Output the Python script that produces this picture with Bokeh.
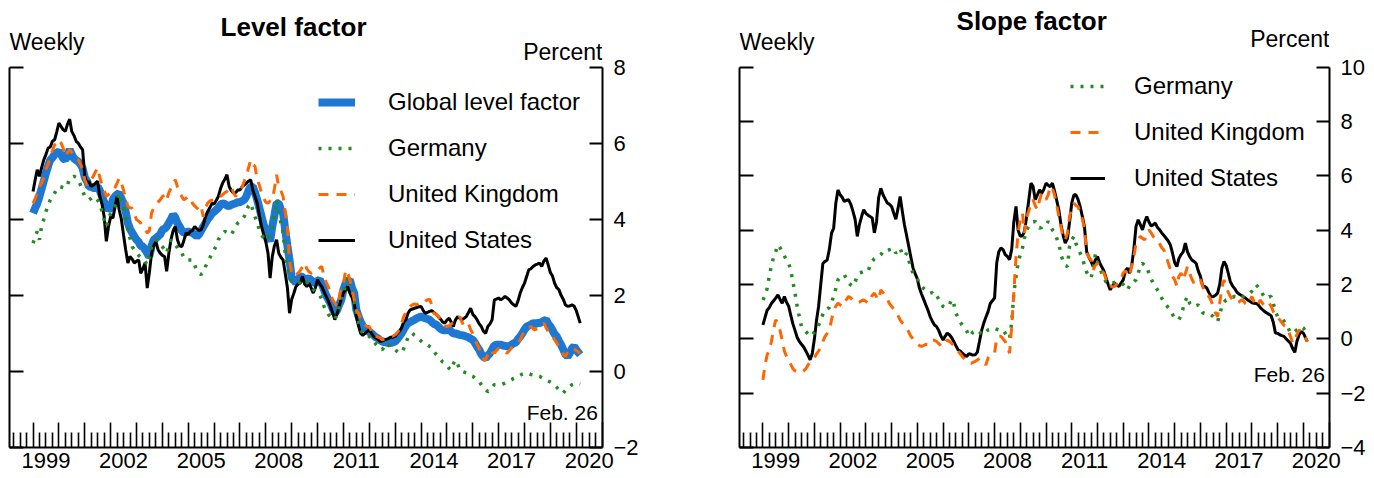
import pandas as pd
from bokeh.plotting import figure
from bokeh.models import (Range1d, LinearAxis, FixedTicker, CustomJSTickFormatter,
                          Label, Legend, LegendItem)
from bokeh.layouts import row
from bokeh.embed import file_html
from bokeh.resources import INLINE

FONT = "Liberation Sans"

# ---------------- data (monthly readings, Jan 1999 .. Jan 2020, then Feb 26 2020) -------------
month_starts = list(pd.date_range("1999-01-01", "2020-01-01", freq="MS"))
dates = month_starts + [pd.Timestamp("2020-02-26")]

global_level = [
    4.16, 4.3, 4.42, 4.6, 4.8, 5.0, 5.21, 5.4, 5.56, 5.62, 5.7, 5.75,
    5.78, 5.7, 5.6, 5.56, 5.7, 5.83, 5.7, 5.6, 5.55, 5.52, 5.45, 5.34,
    5.1, 5.0, 4.86, 4.85, 4.82, 4.82, 4.86, 4.75, 4.6, 4.45, 4.34, 4.25,
    4.3, 4.51, 4.6, 4.65, 4.69, 4.55, 4.42, 4.2, 3.9, 3.75, 3.64, 3.55,
    3.46, 3.4, 3.3, 3.28, 3.2, 3.11, 3.02, 3.3, 3.46, 3.5, 3.55, 3.6,
    3.72, 3.75, 3.8, 3.9, 4.0, 4.12, 4.05, 3.9, 3.81, 3.7, 3.64, 3.66,
    3.68, 3.66, 3.64, 3.6, 3.55, 3.6, 3.7, 3.8, 3.9, 4.0, 4.07, 4.15,
    4.2, 4.25, 4.3, 4.38, 4.42, 4.4, 4.36, 4.34, 4.38, 4.4, 4.42, 4.45,
    4.45, 4.48, 4.51, 4.6, 4.75, 4.86, 4.86, 4.7, 4.51, 4.3, 4.07, 3.85,
    3.7, 3.55, 3.42, 3.81, 4.1, 4.42, 4.42, 4.25, 4.16, 3.72, 3.3, 2.93,
    2.45, 2.4, 2.32, 2.4, 2.5, 2.48, 2.41, 2.43, 2.45, 2.4, 2.35, 2.32,
    2.38, 2.41, 2.3, 2.15, 2.0, 1.9, 1.79, 1.65, 1.53, 1.6, 1.75, 1.88,
    2.15, 2.32, 2.38, 2.41, 2.2, 2.06, 1.62, 1.45, 1.3, 1.2, 1.12, 1.09,
    1.04, 1.0, 0.95, 0.9, 0.87, 0.82, 0.79, 0.77, 0.76, 0.74, 0.75, 0.77,
    0.79, 0.85, 0.92, 1.0, 1.1, 1.2, 1.27, 1.3, 1.33, 1.36, 1.4, 1.42,
    1.44, 1.42, 1.4, 1.38, 1.36, 1.3, 1.25, 1.23, 1.18, 1.12, 1.09, 1.08,
    1.09, 1.1, 1.05, 1.0, 1.0, 0.98, 0.96, 0.95, 0.94, 0.92, 0.9, 0.86,
    0.83, 0.75, 0.65, 0.57, 0.45, 0.38, 0.35, 0.42, 0.48, 0.58, 0.68, 0.7,
    0.7, 0.7, 0.68, 0.67, 0.66, 0.66, 0.7, 0.74, 0.76, 0.85, 0.92, 1.0,
    1.1, 1.18, 1.2, 1.23, 1.27, 1.25, 1.27, 1.27, 1.3, 1.33, 1.36, 1.25,
    1.18, 1.08, 0.98, 0.92, 0.8, 0.7, 0.58, 0.45, 0.39, 0.48, 0.6, 0.66,
    0.57, 0.44,
]

germany_level = [
    3.37, 3.55, 3.68, 3.46, 3.81, 4.0, 4.2, 4.35, 4.51, 4.6, 4.69, 4.78,
    4.86, 4.85, 4.83, 4.82, 4.9, 5.08, 5.1, 5.13, 5.1, 5.04, 4.9, 4.75,
    4.6, 4.55, 4.51, 4.55, 4.6, 4.55, 4.5, 4.42, 4.2, 3.99, 3.81, 4.0,
    4.16, 4.25, 4.34, 4.5, 4.69, 4.5, 4.34, 4.05, 3.72, 3.5, 3.28, 3.2,
    3.11, 3.05, 3.0, 2.93, 2.9, 2.8, 3.0, 3.28, 3.38, 3.46, 3.4, 3.35,
    3.28, 3.2, 3.11, 3.3, 3.46, 3.4, 3.33, 3.25, 3.15, 3.11, 3.0, 2.93,
    2.93, 2.93, 2.93, 2.8, 2.65, 2.58, 2.55, 2.6, 2.76, 2.85, 2.98, 3.1,
    3.2, 3.3, 3.46, 3.55, 3.62, 3.68, 3.66, 3.62, 3.59, 3.7, 3.82, 3.9,
    3.95, 4.0, 4.07, 4.2, 4.35, 4.42, 4.25, 4.07, 3.9, 3.72, 3.6, 3.5,
    3.5, 3.46, 3.6, 3.81, 4.1, 4.51, 4.2, 3.9, 3.64, 3.1, 2.76, 2.5,
    2.36, 2.34, 2.32, 2.3, 2.35, 2.41, 2.4, 2.35, 2.28, 2.25, 2.15, 2.1,
    2.06, 2.0, 1.9, 1.71, 1.6, 1.5, 1.44, 1.4, 1.36, 1.5, 1.71, 1.9,
    2.06, 2.3, 2.5, 2.3, 2.15, 1.85, 1.53, 1.3, 1.09, 1.0, 0.92, 0.92,
    0.92, 0.88, 0.8, 0.72, 0.66, 0.6, 0.57, 0.65, 0.74, 0.7, 0.62, 0.57,
    0.57, 0.52, 0.48, 0.5, 0.6, 0.74, 0.9, 0.98, 1.0, 0.95, 0.92, 0.85,
    0.8, 0.74, 0.72, 0.7, 0.66, 0.62, 0.52, 0.45, 0.39, 0.32, 0.25, 0.22,
    0.15, 0.08, 0.04, 0.2, 0.3, 0.2, 0.04, 0.0, -0.02, -0.04, -0.08, -0.11,
    -0.13, -0.18, -0.22, -0.26, -0.35, -0.44, -0.48, -0.53, -0.5, -0.42, -0.35, -0.35,
    -0.35, -0.35, -0.33, -0.31, -0.28, -0.25, -0.22, -0.18, -0.15, -0.13, -0.1, -0.07,
    -0.05, -0.04, -0.06, -0.08, -0.09, -0.1, -0.12, -0.13, -0.16, -0.19, -0.22, -0.25,
    -0.28, -0.31, -0.36, -0.42, -0.48, -0.55, -0.57, -0.5, -0.44, -0.4, -0.35, -0.33,
    -0.31, -0.33,
]

uk_level = [
    4.42, 4.55, 4.69, 4.85, 4.95, 5.1, 5.3, 5.45, 5.65, 5.8, 5.96, 6.0,
    6.09, 6.0, 5.87, 5.65, 5.75, 5.83, 5.75, 5.65, 5.6, 5.56, 5.45, 5.3,
    5.04, 4.9, 4.95, 5.05, 5.13, 5.25, 5.35, 5.1, 4.9, 4.77, 4.6, 4.65,
    4.69, 4.72, 4.82, 4.95, 5.08, 4.95, 4.77, 4.55, 4.34, 4.3, 4.29, 4.15,
    3.99, 3.95, 3.9, 3.81, 3.75, 3.64, 3.7, 4.16, 4.3, 4.38, 4.45, 4.51,
    4.6, 4.64, 4.51, 4.7, 4.82, 4.95, 5.04, 4.85, 4.69, 4.6, 4.51, 4.55,
    4.6, 4.55, 4.42, 4.35, 4.3, 4.25, 4.34, 4.07, 4.3, 4.42, 4.48, 4.5,
    4.51, 4.55, 4.55, 4.6, 4.65, 4.7, 4.73, 4.8, 4.86, 4.7, 4.6, 4.7,
    4.77, 4.85, 5.0, 5.13, 5.35, 5.56, 5.45, 5.39, 5.04, 4.9, 4.69, 4.55,
    4.45, 4.42, 4.48, 4.51, 4.8, 5.17, 4.86, 4.75, 4.6, 4.2, 3.81, 2.9,
    2.6, 2.5, 2.55, 2.58, 2.65, 2.75, 2.85, 2.7, 2.62, 2.58, 2.6, 2.65,
    2.67, 2.72, 2.76, 2.5, 2.35, 2.23, 2.05, 1.88, 1.8, 1.71, 1.9, 2.23,
    2.3, 2.67, 2.6, 2.41, 2.2, 1.88, 1.6, 1.53, 1.4, 1.27, 1.22, 1.18,
    1.18, 1.05, 0.92, 0.92, 0.9, 0.88, 0.83, 0.85, 0.86, 0.87, 0.9, 0.93,
    0.96, 1.02, 1.09, 1.25, 1.44, 1.55, 1.65, 1.71, 1.75, 1.78, 1.75, 1.79,
    1.82, 1.8, 1.85, 1.88, 1.9, 1.75, 1.53, 1.5, 1.45, 1.35, 1.28, 1.2,
    1.18, 1.2, 1.25, 1.27, 1.32, 1.38, 1.44, 1.3, 1.18, 1.22, 1.25, 1.1,
    1.0, 0.85, 0.72, 0.6, 0.45, 0.32, 0.3, 0.45, 0.57, 0.5, 0.48, 0.55,
    0.6, 0.61, 0.55, 0.5, 0.48, 0.55, 0.62, 0.66, 0.7, 0.75, 0.83, 0.95,
    1.05, 1.09, 1.15, 1.18, 1.12, 1.09, 1.15, 1.2, 1.22, 1.27, 1.15, 1.05,
    1.0, 0.92, 0.83, 0.75, 0.65, 0.57, 0.45, 0.39, 0.5, 0.57, 0.61, 0.6,
    0.55, 0.48,
]

us_level = [
    4.73, 5.05, 5.3, 5.13, 5.35, 5.56, 5.7, 5.87, 5.9, 6.05, 6.09, 6.3,
    6.53, 6.44, 6.35, 6.31, 6.5, 6.63, 6.31, 6.2, 6.05, 6.0, 5.9, 5.83,
    5.13, 4.95, 5.0, 4.86, 4.9, 4.95, 5.0, 4.6, 4.4, 4.07, 3.42, 3.8,
    4.07, 4.03, 4.3, 4.6, 4.25, 4.0, 3.6, 3.2, 2.85, 3.02, 2.95, 2.85,
    2.9, 2.93, 2.58, 2.7, 2.85, 2.19, 2.6, 3.11, 3.3, 3.42, 3.2, 3.11,
    3.05, 3.02, 2.63, 3.1, 3.46, 3.7, 3.81, 3.46, 3.3, 3.28, 3.45, 3.64,
    3.6, 3.68, 3.7, 3.81, 3.75, 3.7, 3.72, 3.85, 4.07, 4.2, 4.3, 4.42,
    4.4, 4.5, 4.6, 4.8, 4.95, 5.05, 5.17, 4.86, 4.75, 4.69, 4.7, 4.77,
    4.77, 4.86, 4.9, 4.95, 5.0, 5.04, 4.77, 4.6, 4.42, 4.1, 3.81, 3.6,
    3.4, 3.1, 2.45, 3.02, 3.3, 3.46, 3.11, 3.0, 2.93, 2.58, 2.2, 1.53,
    1.9, 2.06, 2.23, 2.3, 2.32, 2.5, 2.3, 2.23, 2.32, 2.2, 2.06, 2.2,
    2.41, 2.3, 2.23, 2.1, 1.97, 1.85, 1.71, 1.55, 1.36, 1.5, 1.71, 1.9,
    2.06, 2.15, 2.23, 2.06, 1.95, 1.79, 1.44, 1.2, 1.0, 0.95, 1.0, 1.05,
    1.09, 1.0, 0.92, 0.88, 0.85, 0.79, 0.8, 0.83, 0.85, 0.87, 0.9, 0.9,
    0.92, 1.0, 1.05, 1.15, 1.3, 1.36, 1.53, 1.62, 1.64, 1.66, 1.68, 1.7,
    1.71, 1.6, 1.53, 1.55, 1.58, 1.6, 1.55, 1.5, 1.44, 1.38, 1.3, 1.27,
    1.35, 1.4, 1.3, 1.18, 1.35, 1.44, 1.4, 1.36, 1.4, 1.44, 1.55, 1.66,
    1.5, 1.44, 1.36, 1.25, 1.18, 1.05, 1.0, 1.18, 1.25, 1.36, 1.88, 1.9,
    1.93, 1.88, 1.92, 1.97, 1.93, 1.88, 1.8, 1.75, 1.71, 1.85, 2.06, 2.2,
    2.32, 2.5, 2.67, 2.7, 2.76, 2.8, 2.82, 2.85, 2.76, 2.9, 2.98, 2.8,
    2.6, 2.5, 2.32, 2.2, 2.15, 2.0, 1.9, 1.75, 1.71, 1.72, 1.75, 1.72,
    1.6, 1.27,
]

germany_slope = [
    1.43, 1.6, 1.85, 2.3, 2.7, 3.0, 3.21, 3.46, 3.35, 3.21, 3.05, 2.9,
    2.78, 2.5, 2.1, 1.68, 1.2, 0.8, 0.45, 0.35, 0.27, 0.18, 0.09, 0.15,
    0.25, 0.33, 0.5, 0.7, 0.9, 1.07, 1.1, 1.15, 1.31, 1.6, 1.85, 2.17,
    2.25, 2.3, 2.36, 2.2, 2.05, 1.98, 1.93, 2.1, 2.29, 2.42, 2.45, 2.48,
    2.48, 2.48, 2.7, 2.85, 2.95, 3.0, 3.03, 3.1, 3.2, 3.28, 3.25, 3.28,
    3.3, 3.34, 3.15, 3.25, 3.34, 3.1, 3.03, 3.15, 2.9, 2.6, 2.42, 2.3,
    2.2, 2.05, 1.95, 1.85, 1.78, 1.74, 1.68, 1.7, 1.56, 1.6, 1.45, 1.3,
    1.19, 1.15, 1.2, 1.25, 1.45, 1.3, 0.94, 0.8, 0.62, 0.5, 0.4, 0.3,
    0.09, 0.15, 0.25, 0.3, 0.33, 0.25, 0.2, 0.15, 0.25, 0.33, 0.35, 0.39,
    0.39, 0.35, 0.33, 0.35, 0.33, 0.2, 0.09, 0.0, 0.6, 1.68, 2.29, 2.8,
    3.1, 3.35, 3.7, 4.0, 4.15, 4.26, 4.3, 4.32, 4.2, 4.07, 4.1, 4.2,
    4.2, 4.32, 4.2, 4.01, 3.9, 3.7, 3.52, 3.1, 2.85, 2.7, 2.66, 3.4,
    3.64, 3.77, 3.5, 3.3, 3.15, 2.95, 2.7, 2.45, 2.3, 2.23, 2.6, 3.1,
    2.8, 2.6, 2.42, 2.25, 2.1, 2.05, 2.0, 2.05, 2.08, 2.11, 2.08, 2.05,
    2.0, 1.85, 1.8, 1.95, 2.08, 2.1, 2.17, 2.4, 2.7, 2.78, 2.7, 2.66,
    2.4, 2.2, 2.05, 1.93, 1.8, 1.68, 1.5, 1.35, 1.25, 1.15, 1.05, 0.9,
    0.76, 0.72, 0.7, 0.85, 1.13, 1.4, 1.56, 1.31, 1.22, 1.19, 1.22, 1.25,
    1.1, 0.96, 0.94, 0.95, 0.94, 0.88, 0.82, 0.7, 0.64, 0.9, 1.19, 1.35,
    1.43, 1.45, 1.5, 1.52, 1.56, 1.55, 1.5, 1.5, 1.56, 1.62, 1.65, 1.68,
    1.75, 1.85, 1.99, 1.9, 1.8, 1.65, 1.52, 1.5, 1.55, 1.56, 1.3, 1.0,
    0.82, 0.8, 0.76, 0.65, 0.52, 0.4, 0.21, 0.25, 0.27, 0.33, 0.38, 0.45,
    0.4, 0.18,
]

uk_slope = [
    -1.51, -0.95, -0.6, -0.4, -0.1, 0.35, 0.7, 0.58, 0.3, -0.05, -0.45, -0.65,
    -0.77, -0.95, -1.1, -1.18, -1.22, -1.26, -1.22, -1.18, -1.1, -0.96, -0.88, -0.8,
    -0.7, -0.55, -0.45, -0.3, -0.1, 0.09, 0.2, 0.33, 0.7, 1.07, 1.2, 1.31,
    1.25, 1.19, 1.35, 1.45, 1.56, 1.5, 1.43, 1.38, 1.31, 1.35, 1.4, 1.43,
    1.38, 1.31, 1.45, 1.6, 1.68, 1.55, 1.43, 1.8, 1.7, 1.62, 1.45, 1.3,
    1.19, 1.1, 1.0, 0.85, 0.7, 0.58, 0.5, 0.4, 0.25, 0.09, 0.0, -0.1,
    -0.18, -0.25, -0.28, -0.25, -0.2, -0.22, -0.1, -0.04, -0.05, -0.1, -0.18, -0.25,
    -0.28, -0.15, -0.04, -0.1, -0.16, -0.25, -0.35, -0.45, -0.55, -0.65, -0.75, -0.85,
    -0.88, -0.9, -0.87, -0.83, -0.78, -0.72, -0.75, -0.88, -0.96, -0.7, -0.59, -0.55,
    -0.53, 0.05, 0.09, 0.09, 0.0, -0.1, -0.3, -0.53, 0.45, 1.68, 3.0, 3.9,
    4.38, 4.62, 3.89, 4.5, 4.7, 4.99, 5.12, 4.9, 4.75, 5.1, 5.36, 5.24,
    5.12, 5.3, 5.61, 5.55, 5.3, 4.95, 4.5, 4.13, 3.7, 3.64, 3.89, 4.5,
    4.8, 4.99, 4.9, 4.87, 4.62, 4.4, 4.0, 3.15, 3.0, 2.91, 2.54, 2.7,
    2.78, 2.54, 2.5, 2.42, 2.2, 1.93, 1.95, 1.9, 1.93, 2.0, 2.05, 2.2,
    2.42, 2.5, 2.4, 2.29, 2.7, 3.03, 3.5, 3.64, 3.77, 3.7, 3.64, 3.85,
    4.01, 3.9, 3.77, 3.7, 3.64, 3.5, 3.35, 3.27, 3.03, 2.8, 2.54, 2.3,
    2.17, 1.93, 2.3, 2.42, 2.17, 2.4, 2.66, 2.42, 2.2, 2.05, 2.17, 2.17,
    2.17, 1.95, 1.68, 1.6, 1.56, 1.4, 1.19, 0.95, 0.82, 1.31, 1.9, 2.17,
    1.93, 1.7, 1.56, 1.43, 1.38, 1.31, 1.35, 1.43, 1.4, 1.3, 1.25, 1.4,
    1.56, 1.35, 1.19, 1.3, 1.43, 1.3, 1.19, 1.25, 1.31, 1.2, 1.0, 0.82,
    0.78, 0.7, 0.6, 0.5, 0.45, 0.3, 0.1, -0.16, 0.0, 0.15, 0.33, 0.25,
    0.21, -0.1,
]

us_slope = [
    0.51, 0.8, 1.05, 1.15, 1.3, 1.4, 1.5, 1.62, 1.45, 1.31, 1.56, 1.35,
    1.2, 0.85, 0.55, 0.3, 0.05, -0.1, -0.2, -0.3, -0.45, -0.6, -0.77, -0.55,
    0.0, 0.7, 1.19, 2.0, 2.78, 2.85, 2.9, 3.3, 3.89, 4.07, 5.0, 5.48,
    5.3, 5.2, 5.05, 5.1, 5.12, 4.95, 4.7, 4.4, 3.77, 4.2, 4.5, 4.75,
    4.62, 4.55, 4.5, 4.45, 3.9, 4.3, 5.2, 5.54, 5.3, 5.15, 5.0, 4.95,
    4.87, 4.62, 4.4, 4.8, 5.24, 4.7, 4.2, 3.8, 3.4, 3.0, 2.6, 2.4,
    2.2, 1.85, 1.65, 1.45, 1.25, 1.05, 0.82, 0.65, 0.51, 0.45, 0.3, 0.1,
    -0.04, 0.1, 0.21, 0.15, 0.05, -0.1, -0.25, -0.4, -0.45, -0.53, -0.6, -0.65,
    -0.55, -0.57, -0.6, -0.59, -0.5, -0.1, 0.3, 0.58, 0.8, 1.0, 1.3, 1.4,
    1.5, 2.8, 3.2, 3.34, 3.28, 3.1, 3.03, 2.91, 3.3, 4.3, 4.87, 4.0,
    3.77, 3.8, 3.95, 4.5, 5.1, 5.73, 5.61, 5.12, 5.3, 5.48, 5.36, 5.5,
    5.73, 5.65, 5.6, 5.73, 5.45, 5.1, 4.75, 4.2, 3.8, 3.52, 3.7, 4.3,
    5.0, 5.3, 5.3, 5.12, 4.85, 4.5, 4.1, 3.2, 3.0, 2.85, 2.66, 2.9,
    3.03, 2.8, 2.65, 2.5, 2.25, 2.0, 1.8, 1.95, 2.05, 1.98, 1.93, 2.05,
    2.17, 2.5, 2.6, 2.42, 2.7, 3.3, 4.13, 4.38, 4.2, 4.01, 4.3, 4.5,
    4.3, 4.15, 4.2, 4.26, 4.1, 4.01, 3.9, 3.8, 3.7, 3.6, 3.45, 3.15,
    2.8, 2.66, 2.95, 3.1, 3.2, 3.52, 3.2, 3.03, 2.9, 2.85, 2.78, 2.5,
    2.3, 1.95, 1.93, 1.87, 1.7, 1.56, 1.55, 1.6, 1.68, 2.0, 2.6, 2.85,
    2.7, 2.4, 2.1, 1.95, 1.85, 1.72, 1.65, 1.6, 1.55, 1.5, 1.43, 1.38,
    1.33, 1.31, 1.3, 1.25, 1.15, 1.07, 1.0, 0.95, 0.9, 0.85, 0.6, 0.21,
    0.2, 0.15, 0.12, 0.09, 0.0, -0.08, -0.16, -0.35, -0.5, -0.1, 0.15, 0.27,
    0.21, -0.1,
]

year_labels = ["1999", "2002", "2005", "2008", "2011", "2014", "2017", "2020"]
level_ticks = [-2, 0, 2, 4, 6, 8]
slope_ticks = [-4, -2, 0, 2, 4, 6, 8, 10]

# ---------------- helpers -------------
def to_year(d):
    start = pd.Timestamp(d.year, 1, 1)
    end = pd.Timestamp(d.year + 1, 1, 1)
    return d.year + (d - start) / (end - start)

xs = [to_year(d) for d in dates]

X_START, X_END = 1998.089, 2021.015
BLUE, GREEN, ORANGE, BLACK = "#1E78D2", "#228B22", "#FF6600", "#000000"

minus_fmt = "return tick < 0 ? '\u2212' + Math.abs(tick) : String(tick);"
blank_fmt = "return '';"
year_fmt = "return (tick - 0.5).toFixed(0);"

FIG_H = 477
BOTTOM = 30          # space below the frame for the year labels
FRAME_H = FIG_H - BOTTOM


def make_fig(width, y0, y1, yticks, min_left, min_right, right_standoff):
    # the frame reaches the top of the canvas so that the header texts live inside it;
    # the y axes are bounded to the real value range
    y_top = y0 + FRAME_H * (y1 - y0) / 380.4
    p = figure(width=width, height=FIG_H, x_range=Range1d(X_START, X_END),
               y_range=Range1d(y0, y_top), output_backend="svg", toolbar_location=None,
               tools="", min_border_left=min_left, min_border_right=min_right,
               min_border_top=0, min_border_bottom=BOTTOM)
    p.outline_line_color = None
    p.xgrid.visible = False
    p.ygrid.visible = False
    p.background_fill_color = "white"
    p.border_fill_color = "white"

    # bottom axis: year ticks (tall) and quarter ticks (short), pointing inward
    xa = p.xaxis[0]
    xa.ticker = FixedTicker(ticks=list(range(1999, 2022)),
                            minor_ticks=[y + q for y in range(1998, 2021) for q in (0.25, 0.5, 0.75)])
    xa.formatter = CustomJSTickFormatter(code=blank_fmt)
    xa.major_label_text_font_size = "0px"
    xa.major_label_standoff = 0
    xa.major_tick_in = 25
    xa.major_tick_out = 0
    xa.minor_tick_in = 15
    xa.minor_tick_out = 0
    xa.axis_line_width = 2
    xa.major_tick_line_width = 1.6
    xa.minor_tick_line_width = 1.6

    # bottom labels, centred in the middle of the labelled years
    la = LinearAxis(ticker=FixedTicker(ticks=[int(t) + 0.5 for t in year_labels]),
                    formatter=CustomJSTickFormatter(code=year_fmt))
    la.axis_line_color = None
    la.major_tick_line_color = None
    la.minor_tick_line_color = None
    la.major_tick_in = 0
    la.major_tick_out = 0
    la.major_label_standoff = 5
    la.major_label_text_font = FONT
    la.major_label_text_font_size = "22px"
    la.major_label_text_color = "black"
    p.add_layout(la, "below")

    # left axis: ticks only
    ya = p.yaxis[0]
    ya.bounds = (y0, y1)
    ya.ticker = FixedTicker(ticks=yticks)
    ya.formatter = CustomJSTickFormatter(code=blank_fmt)
    ya.major_label_text_font_size = "0px"
    ya.major_label_standoff = 0
    ya.major_tick_in = 14
    ya.major_tick_out = 0
    ya.minor_tick_line_color = None
    ya.axis_line_width = 2
    ya.major_tick_line_width = 2

    # right axis: ticks and labels
    ra = LinearAxis(ticker=FixedTicker(ticks=yticks), formatter=CustomJSTickFormatter(code=minus_fmt))
    ra.bounds = (y0, y1)
    ra.major_tick_in = 13
    ra.major_tick_out = 0
    ra.minor_tick_line_color = None
    ra.axis_line_width = 2
    ra.major_tick_line_width = 2
    ra.major_label_standoff = right_standoff
    ra.major_label_text_font = FONT
    ra.major_label_text_font_size = "22px"
    ra.major_label_text_color = "black"
    p.add_layout(ra, "right")
    return p


def add_text(p, x, y, text, size, align, bold=False):
    p.add_layout(Label(x=x, y=y, text=text, text_align=align, text_baseline="alphabetic",
                       text_font=FONT, text_font_size=size,
                       text_font_style="bold" if bold else "normal", text_color="black"))


def legend(items, loc, gw, standoff):
    return Legend(items=items, location=loc, orientation="vertical", glyph_width=gw,
                  glyph_height=40, label_height=40, label_standoff=standoff, spacing=6,
                  padding=0, margin=0, border_line_alpha=0, background_fill_alpha=0,
                  label_text_font=FONT, label_text_font_size="24px", label_text_color="black")

# ---------------- left panel: level factor -------------
p1 = make_fig(734, -2, 8, level_ticks, 9, 132, 11)
r_glob = p1.line(xs, global_level, line_color=BLUE, line_width=8)
r_us1 = p1.line(xs, us_level, line_color=BLACK, line_width=3)
r_de1 = p1.line(xs, germany_level, line_color=GREEN, line_width=3.5, line_dash="3 7")
r_uk1 = p1.line(xs, uk_level, line_color=ORANGE, line_width=3, line_dash="10 8")

p1.add_layout(legend([LegendItem(label="Global level factor", renderers=[r_glob]),
                      LegendItem(label="Germany", renderers=[r_de1]),
                      LegendItem(label="United Kingdom", renderers=[r_uk1]),
                      LegendItem(label="United States", renderers=[r_us1])],
                     (309, 187), 37, 33))

add_text(p1, 2009.07, 9.067, "Level factor", "26px", "center", bold=True)
add_text(p1, X_START, 8.66, "Weekly", "23px", "left")
add_text(p1, X_END, 8.41, "Percent", "23px", "right")
add_text(p1, 2020.835, -1.067, "Feb. 26", "21px", "right")

# ---------------- right panel: slope factor -------------
p2 = make_fig(634, -4, 10, slope_ticks, 5, 36, 11)
r_us2 = p2.line(xs, us_slope, line_color=BLACK, line_width=3)
r_de2 = p2.line(xs, germany_slope, line_color=GREEN, line_width=3.5, line_dash="3 7")
r_uk2 = p2.line(xs, uk_slope, line_color=ORANGE, line_width=3, line_dash="10 8")

p2.add_layout(legend([LegendItem(label="Germany", renderers=[r_de2]),
                      LegendItem(label="United Kingdom", renderers=[r_uk2]),
                      LegendItem(label="United States", renderers=[r_us2])],
                     (331, 249), 35, 29))

add_text(p2, 2009.442, 11.679, "Slope factor", "26px", "center", bold=True)
add_text(p2, X_START, 10.925, "Weekly", "23px", "left")
add_text(p2, X_END, 11.035, "Percent", "23px", "right")
add_text(p2, 2020.835, -1.295, "Feb. 26", "21px", "right")

layout = row(p1, p2)
open("out.html", "w").write(file_html(layout, INLINE, title="Level and slope factors"))
